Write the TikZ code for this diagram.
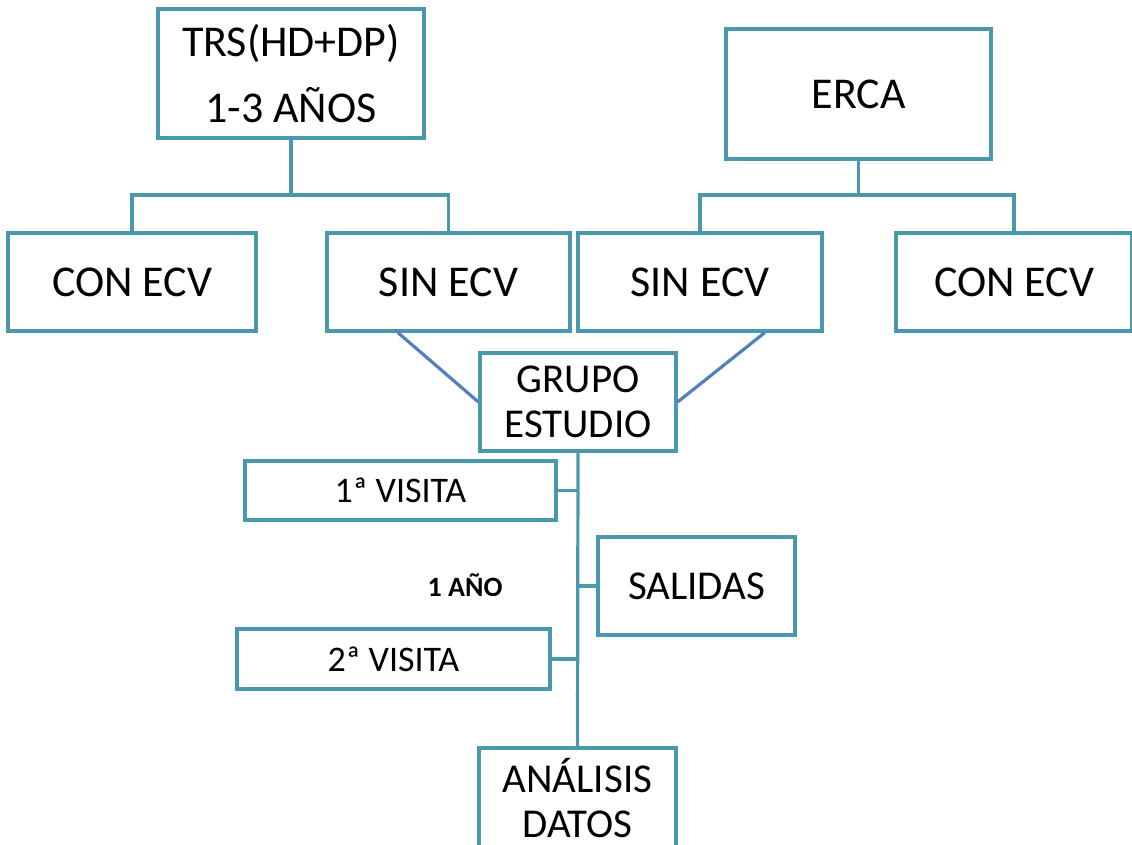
\documentclass[tikz,border=0pt]{standalone}
\usepackage{fontspec}
\setmainfont{Carlito}
\usepackage{tikz}

\definecolor{cajaborde}{RGB}{74,152,172}
\definecolor{lineaazul}{RGB}{79,129,189}

\begin{document}
\begin{tikzpicture}[x=1pt, y=-1pt,
  caja/.style={draw=cajaborde, line width=3.2pt, fill=white, inner sep=0pt,
    align=center, text=black},
  grande/.style={font=\fontsize{44}{66}\selectfont},
  media/.style={font=\fontsize{41}{45}\selectfont},
  chica/.style={font=\fontsize{36}{40}\selectfont},
  rama/.style={draw=cajaborde, line width=3.2pt},
  diag/.style={draw=lineaazul, line width=3.2pt}]
  \useasboundingbox (0,0) rectangle (1132,844);

  % Origen
  \node[caja, grande, minimum width=266pt, minimum height=129pt] (trs) at (291,73.5) {TRS(HD+DP)\\1-3 AÑOS};
  \node[caja, grande, minimum width=265pt, minimum height=130pt] (erca) at (858.5,94) {ERCA};

  % Subgrupos
  \node[caja, grande, minimum width=248pt, minimum height=98pt] (conL) at (132,282) {CON ECV};
  \node[caja, grande, minimum width=243pt, minimum height=98pt] (sinL) at (448.5,282) {SIN ECV};
  \node[caja, grande, minimum width=244pt, minimum height=98pt] (sinR) at (700,282) {SIN ECV};
  \node[caja, grande, minimum width=236pt, minimum height=98pt] (conR) at (1014,282) {CON ECV};

  % Estudio
  \node[caja, media, minimum width=196pt, minimum height=98pt] (grupo) at (578,402) {GRUPO\\ESTUDIO};
  \node[caja, chica, minimum width=311pt, minimum height=59pt] (visita1) at (400.5,490.5) {1ª VISITA};
  \node[caja, media, minimum width=197pt, minimum height=98pt] (salidas) at (696.5,586) {SALIDAS};
  \node[caja, chica, minimum width=313pt, minimum height=60pt] (visita2) at (393.5,659) {2ª VISITA};
  \node[caja, media, minimum width=197pt, minimum height=100pt] (analisis) at (577.5,798) {ANÁLISIS\\DATOS};
  \node[font=\fontsize{28}{30}\selectfont\bfseries] (anio) at (465,585) {1 AÑO};

  % Ramas
  \coordinate (trsJ) at (291,195);
  \coordinate (ercaJ) at (858.5,195);
  \draw[rama] (trs.south) -- (trsJ);
  \draw[rama] (conL.north) |- (trsJ) -| (sinL.north);
  \draw[rama] (erca.south) -- (ercaJ);
  \draw[rama] (sinR.north) |- (ercaJ) -| (conR.north);

  % Uniones al grupo
  \draw[diag] (sinL.-135) -- (grupo.west);
  \draw[diag] (sinR.-38) -- (grupo.east);

  % Seguimiento
  \draw[rama] (grupo.south) -- (analisis.north);
  \draw[rama] (visita1.east) -- (visita1.east -| grupo.south);
  \draw[rama] (salidas.west) -- (salidas.west -| grupo.south);
  \draw[rama] (visita2.east) -- (visita2.east -| grupo.south);
\end{tikzpicture}
\end{document}
